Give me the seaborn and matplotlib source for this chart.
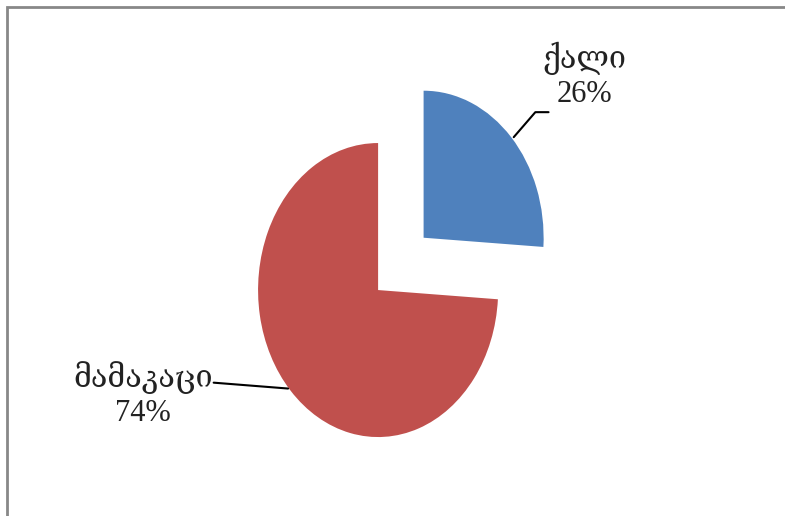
import seaborn as sns
import matplotlib.pyplot as plt
from matplotlib.patches import Rectangle

# data
labels = ["ქალი", "მამაკაცი"]
shares = [26, 74]
colors = ["#4F81BD", "#C0504D"]

sns.set_theme(style="white")
plt.rcParams['font.family'] = ['Liberation Serif', 'DejaVu Serif']

fig = plt.figure(figsize=(7.85, 5.16), dpi=100)
ax = fig.add_axes([0, 0, 1, 1])

ax.pie(shares, colors=colors, startangle=90, counterclock=False,
       explode=[0.52, 0], radius=1, wedgeprops=dict(linewidth=0))

# stretched pie, like the source picture
ax.set_aspect('auto')
ax.set_xlim(-3.15, 3.39)
ax.set_ylim(-1.537, 1.973)
ax.axis('off')

# labels with leader lines
ax.text(1.72, 1.46, f"{labels[0]}\n{shares[0]}%", ha='center', va='center',
        fontsize=22, color='#222222', linespacing=1.2)
ax.plot([1.13, 1.31, 1.42], [1.04, 1.21, 1.21], color='black', lw=1.5)

ax.text(-1.96, -0.71, f"{labels[1]}\n{shares[1]}%", ha='center', va='center',
        fontsize=22, color='#222222', linespacing=1.2)
ax.plot([-1.37, -0.75], [-0.63, -0.67], color='black', lw=1.5)

# frame of the source picture
fig.patches.append(Rectangle((0.009, -0.05), 1.1, 1.036, transform=fig.transFigure,
                             fill=False, edgecolor='#888888', lw=2))

fig.savefig("out.png", dpi=100)
